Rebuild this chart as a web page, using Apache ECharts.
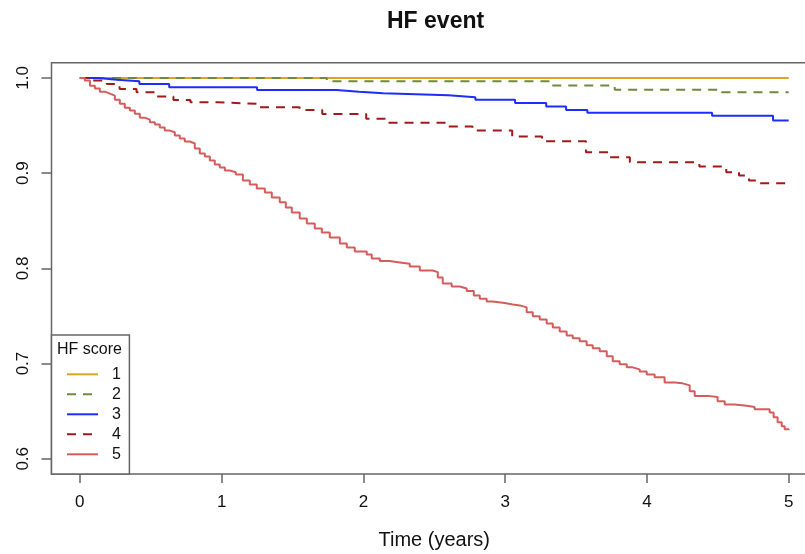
<!DOCTYPE html>
<html><head><meta charset="utf-8">
<script src="https://cdn.jsdelivr.net/npm/echarts@6/dist/echarts.min.js"></script>
<style>html,body{margin:0;padding:0;background:#fff}#c{width:805px;height:554px}</style>
</head><body><div id="c"></div>
<script>
// ---- data ----
const seriesNames = ['1', '2', '3', '4', '5'];
const xTicks = [0, 1, 2, 3, 4, 5];
const yTicks = [0.6, 0.7, 0.8, 0.9, 1.0];

const t1 = [0, 5];
const s1 = [1, 1];

const t2 = [0, 1.742, 3.314, 3.773, 4.527, 5.0];
const s2 = [1, 0.9964, 0.992, 0.9877, 0.9849, 0.9849];

const t3 = [0, 0.13, 0.26, 0.42, 0.63, 1.25, 1.81, 1.97, 2.14, 2.60, 2.79, 3.07, 3.29, 3.43, 3.58, 4.46, 4.89, 5.0];
const s3 = [1, 0.998, 0.9964, 0.9937, 0.9901, 0.9874, 0.9856, 0.9838, 0.9817, 0.9796, 0.9772, 0.9738, 0.9699, 0.9664, 0.9634, 0.9604, 0.9552, 0.9552];

const t4 = [0, 0.09, 0.19, 0.28, 0.40, 0.54, 0.66, 0.78, 0.97, 1.27, 1.55, 1.71, 2.02, 2.16, 2.59, 2.77, 3.05, 3.26, 3.57, 3.74, 3.88, 4.37, 4.56, 4.65, 4.72, 4.79, 5.0];
const s4 = [1, 0.9972, 0.9937, 0.9885, 0.9849, 0.9804, 0.9769, 0.9744, 0.9727, 0.9691, 0.9664, 0.9622, 0.9570, 0.9528, 0.9489, 0.9447, 0.9384, 0.9335, 0.9219, 0.9167, 0.9114, 0.9069, 0.9009, 0.8975, 0.8922, 0.8894, 0.8894];

const t5 = [0, 0.035, 0.071, 0.106, 0.141, 0.176, 0.212, 0.247, 0.282, 0.317, 0.353, 0.388, 0.423, 0.458, 0.494, 0.529, 0.564, 0.599, 0.635, 0.670, 0.705, 0.740, 0.776, 0.811, 0.846, 0.882, 0.917, 0.952, 0.987, 1.023, 1.058, 1.100, 1.150, 1.199, 1.248, 1.305, 1.354, 1.410, 1.453, 1.495, 1.551, 1.601, 1.657, 1.707, 1.763, 1.834, 1.883, 1.939, 2.024, 2.059, 2.116, 2.186, 2.257, 2.327, 2.398, 2.489, 2.525, 2.560, 2.623, 2.680, 2.729, 2.779, 2.821, 2.870, 2.912, 2.997, 3.054, 3.103, 3.152, 3.195, 3.244, 3.293, 3.336, 3.385, 3.434, 3.477, 3.526, 3.575, 3.618, 3.667, 3.717, 3.759, 3.808, 3.858, 3.900, 3.949, 3.999, 4.055, 4.125, 4.196, 4.252, 4.302, 4.337, 4.443, 4.499, 4.549, 4.619, 4.704, 4.760, 4.866, 4.894, 4.922, 4.951, 4.972, 5.0];
const s5 = [1, 0.9972, 0.9919, 0.9888, 0.9856, 0.9835, 0.9814, 0.9772, 0.9730, 0.9688, 0.9657, 0.9625, 0.9583, 0.9562, 0.9534, 0.9510, 0.9479, 0.9447, 0.9429, 0.9395, 0.9363, 0.9332, 0.9311, 0.9258, 0.9206, 0.9174, 0.9132, 0.9090, 0.9059, 0.9027, 0.9009, 0.8985, 0.8922, 0.8880, 0.8838, 0.8796, 0.8744, 0.8695, 0.8639, 0.8587, 0.8523, 0.8471, 0.8419, 0.8377, 0.8324, 0.8261, 0.8219, 0.8177, 0.8146, 0.8104, 0.8076, 0.8062, 0.8048, 0.8020, 0.7978, 0.7960, 0.7905, 0.7842, 0.7810, 0.7789, 0.7761, 0.7716, 0.7681, 0.7653, 0.7635, 0.7621, 0.7611, 0.7590, 0.7538, 0.7496, 0.7464, 0.7422, 0.7380, 0.7338, 0.7296, 0.7265, 0.7233, 0.7191, 0.7160, 0.7128, 0.7076, 0.7023, 0.6992, 0.6960, 0.6939, 0.6917, 0.6886, 0.6855, 0.6802, 0.6792, 0.6771, 0.6708, 0.6658, 0.6648, 0.6603, 0.6569, 0.6556, 0.6544, 0.6519, 0.6485, 0.6435, 0.6383, 0.6341, 0.6309, 0.6299];

const times = [t1, t2, t3, t4, t5];
const survs = [s1, s2, s3, s4, s5];
const colors = ['#DAA520', '#6E8B3D', '#1d2cff', '#A01A1A', '#D65C5C'];
const dashed = [false, true, false, true, false];

// ---- chart ----
const FONT = '"Liberation Sans", Arial, Helvetica, sans-serif';
const GRAY = '#666';
const chart = echarts.init(document.getElementById('c'), null, {renderer: 'canvas'});

const series = seriesNames.map((name, k) => ({
  name: name,
  type: 'line',
  step: 'end',
  symbol: 'none',
  silent: true,
  data: times[k].map((t, i) => [t, survs[k][i]]),
  lineStyle: { color: colors[k], width: 2, type: dashed[k] ? [9, 7] : 'solid' },
  itemStyle: { color: colors[k] }
}));

chart.setOption({
  animation: false,
  backgroundColor: '#fff',
  textStyle: { fontFamily: FONT },
  title: {
    text: 'HF event',
    left: 387, top: 10, padding: 0,
    textStyle: { fontFamily: FONT, fontSize: 23, fontWeight: 'bold', color: '#111' }
  },
  grid: {
    left: 51.5, top: 62.7, width: 765.5, height: 411.3,
    containLabel: false, outerBoundsMode: 'none',
    show: true, borderColor: GRAY, borderWidth: 1.5, backgroundColor: 'transparent'
  },
  xAxis: {
    type: 'value', min: -0.2, max: 5.2,
    axisLine: { show: false, onZero: false },
    splitLine: { show: false },
    axisTick: { show: true, customValues: xTicks, length: 9, lineStyle: { color: GRAY, width: 1.5 } },
    axisLabel: { customValues: xTicks, fontSize: 17, color: '#111', margin: 20, fontFamily: FONT,
      formatter: v => String(Math.round(v)) },
    name: 'Time (years)', nameLocation: 'middle', nameGap: 56,
    nameTextStyle: { fontSize: 20, color: '#111', fontFamily: FONT }
  },
  yAxis: {
    type: 'value', min: 0.584, max: 1.016,
    axisLine: { show: false, onZero: false },
    splitLine: { show: false },
    axisTick: { show: true, customValues: yTicks, length: 10, lineStyle: { color: GRAY, width: 1.5 } },
    axisLabel: { customValues: yTicks, fontSize: 17, color: '#111', margin: 20, rotate: 90, fontFamily: FONT,
      formatter: v => v.toFixed(1) }
  },
  legend: {
    orient: 'vertical',
    left: 51.5, top: 335,
    padding: [31.3, 8.5, 11.7, 14.5],
    itemWidth: 31, itemHeight: 14, itemGap: 4,
    borderColor: GRAY, borderWidth: 1.5, backgroundColor: '#fff',
    selectedMode: false,
    itemStyle: { opacity: 0 },
    lineStyle: { width: 2 },
    textStyle: { fontSize: 16, color: '#111', fontFamily: FONT, padding: [0, 0, 0, 9], lineHeight: 14 },
    data: seriesNames
  },
  graphic: [{
    type: 'text', left: 57, top: 342, z: 100,
    style: { text: 'HF score', font: '16px ' + FONT, fill: '#111' }
  }],
  series: series
});
</script></body></html>
